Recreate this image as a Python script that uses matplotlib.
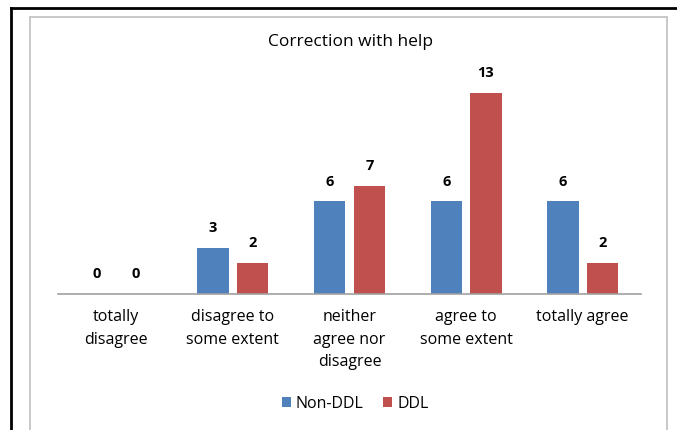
import numpy as np
import matplotlib.pyplot as plt
from matplotlib.patches import Rectangle
from matplotlib.lines import Line2D

categories = ["totally\ndisagree", "disagree to\nsome extent", "neither\nagree nor\ndisagree",
              "agree to\nsome extent", "totally agree"]
non_ddl = [0, 3, 6, 6, 6]
ddl = [0, 2, 7, 13, 2]

plt.rcParams['font.family'] = ['Open Sans', 'DejaVu Sans']

fig = plt.figure(figsize=(6.77, 4.3), dpi=100)
W, H = 677, 430

# outer black border (left and top) and grey chart frame
fig.add_artist(Line2D([11 / W, 11 / W], [0, 1 - 8 / H], transform=fig.transFigure, color='black', lw=2))
fig.add_artist(Line2D([11 / W, 1], [1 - 8 / H, 1 - 8 / H], transform=fig.transFigure, color='black', lw=2))
fig.add_artist(Rectangle((30 / W, -0.01), 637 / W, 1 - 17 / H + 0.01, transform=fig.transFigure,
                         fill=False, edgecolor='#bfbfbf', lw=1.2))

ax = fig.add_axes([58 / W, 1 - 294 / H, 583 / W, 217 / H])
x = np.arange(len(categories))
w = 0.27
off = 0.17
b1 = ax.bar(x - off, non_ddl, w, color='#4F81BD', label='Non-DDL')
b2 = ax.bar(x + off, ddl, w, color='#C0504D', label='DDL')
for bars in (b1, b2):
    ax.bar_label(bars, padding=9, fontsize=10.5, fontweight='bold')

ax.set_ylim(0, 14)
ax.set_xlim(-0.5, len(categories) - 0.5)
ax.set_yticks([])
ax.set_xticks(x)
ax.set_xticklabels(categories, fontsize=11.5, linespacing=1.55)
ax.tick_params(axis='x', length=0, pad=11)
for s in ['top', 'right', 'left']:
    ax.spines[s].set_visible(False)
ax.spines['bottom'].set_color('#a0a0a0')
ax.spines['bottom'].set_linewidth(1.2)

fig.text(350 / W, 1 - 42 / H, "Correction with help", ha='center', va='center', fontsize=12.5)
fig.legend(loc='center', bbox_to_anchor=(355 / W, 1 - 404 / H), ncol=2, frameon=False,
           fontsize=11.5, handlelength=0.6, handleheight=0.6, handletextpad=0.3, columnspacing=1.2)

fig.savefig('out.png', dpi=100)
